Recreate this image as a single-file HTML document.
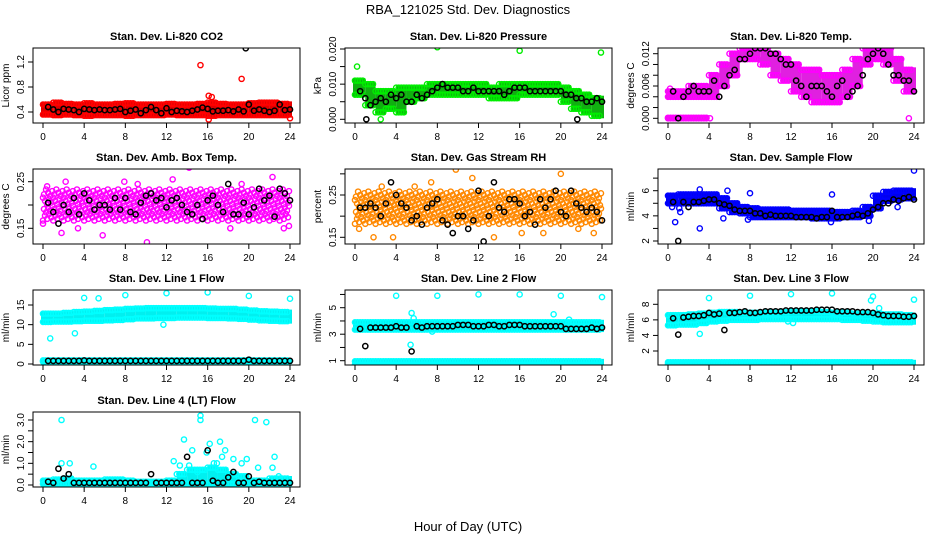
<!DOCTYPE html>
<html><head><meta charset="utf-8"><style>
body{margin:0;background:#fff}
svg{display:block;font-family:"Liberation Sans",sans-serif}
</style></head><body>
<svg id="c" width="936" height="540" viewBox="0 0 936 540">
<text x="468" y="14" font-size="13" text-anchor="middle">RBA_121025  Std. Dev. Diagnostics</text>
<text x="468" y="531" font-size="13" text-anchor="middle">Hour of Day (UTC)</text>
</svg>
<script>
const hoursTicks=[0,4,8,12,16,20,24];
// CO2
const co2Lo=[0.36,0.35,0.36,0.35,0.34,0.35,0.35,0.35,0.34,0.35,0.35,0.35,0.36,0.35,0.35,0.35,0.34,0.35,0.35,0.35,0.35,0.35,0.35,0.35,0.33];
const co2Hi=[0.52,0.55,0.53,0.52,0.54,0.52,0.52,0.53,0.54,0.52,0.52,0.52,0.53,0.52,0.52,0.53,0.55,0.53,0.52,0.52,0.54,0.55,0.55,0.53,0.52];
const co2Black=[0.48,0.44,0.40,0.45,0.44,0.43,0.40,0.45,0.44,0.43,0.44,0.43,0.43,0.44,0.45,0.40,0.42,0.44,0.38,0.43,0.48,0.43,0.38,0.46,0.40,0.42,0.41,0.40,0.42,0.44,0.47,0.45,0.41,0.42,0.42,0.43,0.41,0.44,0.41,0.52,0.42,0.44,0.42,0.40,0.42,0.52,0.43,0.44];
const co2OutX=[15.3,16.1,16.4,19.3,16.1,24],co2OutY=[1.15,0.66,0.64,0.93,0.28,0.3];
const co2BOutX=[19.7],co2BOutY=[1.42];
// Pressure
const prLo=[0.007,0.004,0.002,0.003,0.002,0.005,0.006,0.007,0.007,0.007,0.007,0.007,0.007,0.006,0.006,0.006,0.007,0.007,0.007,0.007,0.005,0.003,0.002,0.001,0.000];
const prHi=[0.011,0.010,0.008,0.008,0.009,0.009,0.009,0.010,0.010,0.010,0.010,0.010,0.010,0.009,0.010,0.010,0.010,0.010,0.010,0.010,0.009,0.008,0.007,0.006,0.006];
const prBlack=[0.008,0.006,0.004,0.005,0.006,0.005,0.007,0.006,0.007,0.005,0.005,0.007,0.006,0.007,0.008,0.009,0.010,0.009,0.009,0.009,0.008,0.008,0.009,0.008,0.008,0.008,0.008,0.008,0.007,0.008,0.009,0.009,0.009,0.008,0.008,0.008,0.008,0.008,0.008,0.008,0.007,0.007,0.006,0.006,0.005,0.005,0.006,0.005];
const prOutX=[0.2,8,16,23.9,2.5],prOutY=[0.015,0.0205,0.0195,0.019,0.0];
const prBOutX=[1.1,21.6],prBOutY=[0.0,0.0];
// Li-820 temp
const ltLo=[0.004,0.004,0.004,0.004,0.004,0.006,0.008,0.011,0.011,0.010,0.008,0.007,0.005,0.004,0.003,0.003,0.003,0.004,0.006,0.010,0.011,0.010,0.007,0.005,0.004];
const ltHi=[0.005,0.005,0.006,0.006,0.008,0.010,0.012,0.013,0.013,0.013,0.012,0.011,0.010,0.009,0.009,0.008,0.008,0.009,0.011,0.013,0.013,0.013,0.011,0.009,0.008];
const ltZeroLo=[0,0,0,0,null,null,null,null,null,null,null,null,null,null,null,null,null,null,null,null,null,null,null,null,null];
const ltZeroHi=[0.0001,0.0001,0.0001,0.0001,null,null,null,null,null,null,null,null,null,null,null,null,null,null,null,null,null,null,null,null,null];
const ltBlack=[0.005,0.000,0.004,0.005,0.006,0.005,0.005,0.005,0.007,0.004,0.006,0.008,0.009,0.011,0.011,0.012,0.013,0.013,0.013,0.012,0.012,0.011,0.010,0.010,0.007,0.006,0.004,0.006,0.006,0.006,0.005,0.004,0.006,0.007,0.004,0.005,0.006,0.008,0.011,0.012,0.013,0.012,0.010,0.008,0.008,0.007,0.007,0.005];
const ltOutX=[0.2,23.5,4.1],ltOutY=[0.0055,0.0,0.0];
// Amb box temp
const abLo=[0.165,0.165,0.165,0.165,0.165,0.165,0.165,0.165,0.165,0.165,0.165,0.165,0.165,0.165,0.165,0.165,0.165,0.165,0.165,0.165,0.165,0.165,0.165,0.165,0.165];
const abHi=[0.235,0.235,0.235,0.235,0.235,0.235,0.235,0.235,0.235,0.235,0.235,0.235,0.235,0.235,0.235,0.235,0.235,0.235,0.235,0.235,0.235,0.235,0.235,0.235,0.235];
const abBlack=[0.205,0.185,0.16,0.20,0.185,0.215,0.18,0.225,0.21,0.19,0.20,0.20,0.19,0.215,0.19,0.215,0.185,0.18,0.205,0.22,0.225,0.21,0.215,0.195,0.21,0.215,0.20,0.185,0.18,0.20,0.17,0.21,0.22,0.20,0.185,0.245,0.18,0.18,0.205,0.18,0.195,0.235,0.21,0.22,0.175,0.235,0.225,0.21];
const abOutX=[0,0.4,2.2,1.8,5.8,10.1,14.2,12.6,22.3,23.4,23.9,18.2,19.3,9.2,3.4,7.9],abOutY=[0.16,0.24,0.25,0.14,0.135,0.12,0.28,0.255,0.26,0.15,0.155,0.15,0.245,0.245,0.15,0.25];
// RH
const rhLo=[0.18,0.18,0.18,0.18,0.18,0.18,0.18,0.18,0.18,0.18,0.18,0.18,0.18,0.18,0.18,0.18,0.18,0.18,0.18,0.18,0.18,0.18,0.18,0.18,0.18];
const rhHi=[0.26,0.26,0.26,0.26,0.26,0.26,0.26,0.26,0.26,0.26,0.26,0.26,0.26,0.26,0.26,0.26,0.26,0.26,0.26,0.26,0.26,0.26,0.26,0.26,0.26];
const rhBlack=[0.22,0.22,0.23,0.22,0.20,0.23,0.28,0.25,0.23,0.22,0.19,0.20,0.18,0.22,0.23,0.24,0.19,0.18,0.16,0.20,0.20,0.17,0.19,0.26,0.14,0.20,0.28,0.22,0.21,0.24,0.24,0.23,0.20,0.21,0.18,0.24,0.22,0.24,0.26,0.21,0.20,0.26,0.23,0.22,0.21,0.22,0.21,0.19];
const rhOutX=[0.4,1.8,3.7,5.8,7.4,9.8,11.4,13.5,16.2,18.3,20,21.7,23.2,2.6],rhOutY=[0.17,0.15,0.15,0.27,0.28,0.31,0.29,0.15,0.16,0.16,0.30,0.17,0.16,0.27];
// Sample flow
const sfLo=[5.0,5.0,5.0,5.0,5.0,4.6,4.3,4.2,3.9,3.9,3.9,3.9,3.9,3.9,3.8,3.8,3.8,3.9,3.9,4.0,4.6,5.2,5.3,5.4,5.3];
const sfHi=[5.6,5.7,5.7,5.7,5.7,5.4,5.0,4.7,4.6,4.5,4.5,4.5,4.4,4.4,4.4,4.4,4.3,4.3,4.4,4.7,5.6,5.9,6.0,6.0,6.0];
const sfBlack=[5.1,2.0,5.1,4.7,5.1,5.1,5.2,5.3,5.3,5.0,4.9,4.8,4.5,4.4,4.4,4.4,4.2,4.2,4.0,4.1,4.0,4.0,4.0,4.0,3.9,3.9,3.9,3.9,3.8,3.9,3.9,4.4,3.9,3.9,3.9,4.0,4.1,4.0,4.2,4.5,4.7,5.0,5.0,5.3,5.2,5.4,5.5,5.3];
const sfOutX=[0.7,1.2,3.1,3.1,5.4,5.8,8,7.8,16,15.9,19.6,24,0.4,1.1,22.4],sfOutY=[3.5,4.3,6.1,3.0,3.8,6.0,5.8,3.7,5.7,3.5,3.6,7.6,4.7,4.6,4.7];
// Line 1
const l1Lo=[10.7,10.8,10.8,10.9,11.0,11.0,11.1,11.2,11.4,11.6,11.6,11.7,11.7,11.8,11.8,11.8,11.7,11.7,11.6,11.5,11.3,11.1,11.0,10.9,10.9];
const l1Hi=[12.8,12.8,13.0,13.2,13.3,13.5,13.7,13.8,14.0,14.1,14.2,14.2,14.2,14.2,14.2,14.2,14.1,14.0,14.0,13.8,13.6,13.4,13.3,13.2,13.2];
const l1LowLo=[0.6,0.6,0.6,0.6,0.6,0.6,0.6,0.6,0.6,0.6,0.6,0.6,0.6,0.6,0.6,0.6,0.6,0.6,0.6,0.6,0.6,0.6,0.6,0.6,0.6];
const l1LowHi=[0.9,0.9,0.9,0.9,0.9,0.9,0.9,0.9,0.9,0.9,0.9,0.9,0.9,0.9,0.9,0.9,0.9,0.9,0.9,0.9,0.9,0.9,0.9,0.9,0.9];
const l1Black=[0.8,0.8,0.8,0.8,0.8,0.8,0.8,0.9,0.8,0.8,0.8,0.8,0.8,0.8,0.8,0.8,0.8,0.8,0.8,0.8,0.8,0.8,0.8,0.8,0.8,0.8,0.8,0.8,0.8,0.8,0.8,0.8,0.8,0.8,0.8,0.8,0.8,0.8,0.8,1.1,0.8,0.8,0.8,0.8,0.8,0.8,0.8,0.8];
const l1OutX=[0.7,3.1,4,5.4,8,12,16,20,24,11.7,12.1],l1OutY=[6.5,7.8,16.8,16.7,17.5,18,18.2,17.3,16.6,10,0];
// Line 2
const l2Lo=[3.35,3.35,3.35,3.35,3.35,3.35,3.35,3.35,3.35,3.35,3.35,3.35,3.35,3.35,3.35,3.35,3.35,3.35,3.35,3.35,3.35,3.35,3.35,3.35,3.35];
const l2Hi=[3.9,3.9,3.9,3.9,3.9,3.9,3.9,3.9,3.9,3.9,3.9,3.9,3.9,3.9,3.9,3.9,3.9,3.9,3.9,3.9,3.9,3.9,3.9,3.9,3.9];
const l2LowLo=[0.7,0.7,0.7,0.7,0.7,0.7,0.7,0.7,0.7,0.7,0.7,0.7,0.7,0.7,0.7,0.7,0.7,0.7,0.7,0.7,0.7,0.7,0.7,0.7,0.7];
const l2LowHi=[0.95,0.95,0.95,0.95,0.95,0.95,0.95,0.95,0.95,0.95,0.95,0.95,0.95,0.95,0.95,0.95,0.95,0.95,0.95,0.95,0.95,0.95,0.95,0.95,0.95];
const l2Black=[3.4,2.1,3.5,3.5,3.5,3.5,3.5,3.6,3.5,3.5,1.7,3.6,3.5,3.6,3.6,3.6,3.6,3.6,3.6,3.7,3.7,3.7,3.6,3.6,3.6,3.7,3.7,3.6,3.6,3.7,3.7,3.7,3.6,3.6,3.6,3.6,3.6,3.6,3.6,3.6,3.4,3.4,3.4,3.4,3.4,3.5,3.4,3.5];
const l2OutX=[4,8,12,16,20,24,5.5,5.7,5.4,20.8,19.3,7.5],l2OutY=[5.9,5.9,6,6,5.9,5.8,4.6,4.2,2.2,4.1,4.5,3.2];
// Line 3
const l3Lo=[5.3,5.4,5.4,5.6,5.8,5.9,6.0,6.0,6.0,6.1,6.1,6.1,6.1,6.1,6.1,6.1,6.1,6.0,6.0,5.9,5.8,5.7,5.7,5.7,5.7];
const l3Hi=[6.6,6.6,6.7,6.8,6.9,7.0,7.0,6.9,6.9,6.9,6.9,7.0,7.1,7.1,7.1,7.0,6.9,6.9,6.8,6.8,6.8,6.7,6.7,6.6,6.6];
const l3LowLo=[0.3,0.3,0.3,0.3,0.3,0.3,0.3,0.3,0.3,0.3,0.3,0.3,0.3,0.3,0.3,0.3,0.3,0.3,0.3,0.3,0.3,0.3,0.3,0.3,0.3];
const l3LowHi=[0.55,0.55,0.55,0.55,0.55,0.55,0.55,0.55,0.55,0.55,0.55,0.55,0.55,0.55,0.55,0.55,0.55,0.55,0.55,0.55,0.55,0.55,0.55,0.55,0.55];
const l3Black=[6.2,4.1,6.3,6.4,6.5,6.5,6.6,6.9,6.7,6.8,4.7,6.9,6.9,7.0,7.1,6.9,6.9,7.0,7.1,7.1,7.1,7.1,7.2,7.2,7.2,7.2,7.2,7.2,7.3,7.3,7.3,7.3,7.1,7.1,7.1,7.1,7.0,7.0,7.0,6.9,6.7,6.6,6.5,6.5,6.5,6.4,6.4,6.5];
const l3OutX=[3.1,4,8,12,16,20,19.8,24,20.6,12.2,11.7],l3OutY=[4.2,8.8,9.1,9.3,9.4,9,8.5,8.6,7.5,5.6,5.8];
// Line 4
const l4Lo=[0.05,0.05,0.05,0.05,0.05,0.05,0.05,0.05,0.05,0.05,0.05,0.05,0.05,0.05,0.05,0.05,0.05,0.05,0.05,0.05,0.05,0.05,0.05,0.05,0.05];
const l4Hi=[0.2,0.25,0.3,0.2,0.2,0.2,0.25,0.25,0.2,0.15,0.15,0.15,0.2,0.5,0.7,0.7,0.8,0.7,0.5,0.4,0.2,0.2,0.3,0.3,0.2];
const l4Black=[0.15,0.1,0.75,0.3,0.5,0.1,0.1,0.1,0.1,0.1,0.1,0.1,0.1,0.1,0.1,0.1,0.1,0.1,0.1,0.1,0.5,0.1,0.1,0.1,0.1,0.1,0.1,1.3,0.1,0.1,0.1,1.6,0.2,0.1,0.1,0.35,0.6,0.1,0.1,0.4,0.1,0.15,0.1,0.1,0.1,0.1,0.1,0.1];
const l4OutX=[1.8,1.8,2.6,4.9,13.7,14.5,15.3,15.3,15.9,16.2,16.6,17.2,17.7,18.5,19.3,19.8,20.6,20.9,21.7,22.3,22.5,22.9,12.7,13.3,14.2,15.0,16.9,17.4],l4OutY=[3.0,1.0,1.0,0.85,2.1,1.6,3.2,3.0,1.5,1.9,1.0,2.0,1.6,1.2,1.0,1.2,3.0,0.8,2.9,0.8,1.3,0.4,1.1,0.9,0.9,0.6,1.0,1.3];

const panels=[
 {name:"co2",title:"Stan. Dev. Li-820 CO2",yl:"Licor ppm",c:0,r:0,ref:[0.4,112,1.2,62],ticks:[0.4,0.8,1.2],labels:["0.4","0.8","1.2"],col:"#ff0000",fill:"#e00000",bands:[[co2Lo,co2Hi]],bx:co2Black,ox:co2OutX,oy:co2OutY,box:co2BOutX,boy:co2BOutY},
 {name:"pressure",title:"Stan. Dev. Li-820 Pressure",yl:"kPa",c:1,r:0,ref:[0,119.3,0.02,49],ticks:[0,0.005,0.01,0.015,0.02],labels:["0.000","","0.010","","0.020"],col:"#00ee00",fill:"#10b010",bands:[[prLo,prHi]],bx:prBlack,ox:prOutX,oy:prOutY,box:prBOutX,boy:prBOutY},
 {name:"li820-temp",title:"Stan. Dev. Li-820 Temp.",yl:"degrees C",c:2,r:0,ref:[0,118.3,0.012,53.7],ticks:[0,0.002,0.004,0.006,0.008,0.01,0.012],labels:["0.000","","","0.006","","","0.012"],col:"#ff00ff",fill:"#e020e0",bands:[[ltLo,ltHi],[ltZeroLo,ltZeroHi]],bx:ltBlack,ox:ltOutX,oy:ltOutY},
 {name:"amb-box-temp",title:"Stan. Dev. Amb. Box Temp.",yl:"degrees C",c:0,r:1,ref:[0.15,228.3,0.25,181.7],ticks:[0.15,0.2,0.25],labels:["0.15","","0.25"],col:"#ff00ff",fill:"#ff00ff",sparse:true,bands:[[abLo,abHi]],bx:abBlack,ox:abOutX,oy:abOutY},
 {name:"gas-stream-rh",title:"Stan. Dev. Gas Stream RH",yl:"percent",c:1,r:1,ref:[0.15,237.3,0.25,195],ticks:[0.15,0.2,0.25,0.3],labels:["0.15","","0.25",""],col:"#ff8800",fill:"#f0b800",sparse:true,bands:[[rhLo,rhHi]],bx:rhBlack,ox:rhOutX,oy:rhOutY},
 {name:"sample-flow",title:"Stan. Dev. Sample Flow",yl:"ml/min",c:2,r:1,ref:[2,241,6,190.7],ticks:[2,3,4,5,6,7],labels:["2","","4","","6",""],col:"#0000ff",fill:"#0000ee",bands:[[sfLo,sfHi]],bx:sfBlack,ox:sfOutX,oy:sfOutY},
 {name:"line1-flow",title:"Stan. Dev. Line 1 Flow",yl:"ml/min",c:0,r:2,ref:[0,364,15,305],ticks:[0,5,10,15],labels:["0","5","10","15"],col:"#00ffff",fill:"#00f0f0",bands:[[l1Lo,l1Hi],[l1LowLo,l1LowHi]],bx:l1Black,ox:l1OutX,oy:l1OutY},
 {name:"line2-flow",title:"Stan. Dev. Line 2 Flow",yl:"ml/min",c:1,r:2,ref:[1,360.7,5,307.7],ticks:[1,2,3,4,5,6],labels:["1","","3","","5",""],col:"#00ffff",fill:"#00f0f0",bands:[[l2Lo,l2Hi],[l2LowLo,l2LowHi]],bx:l2Black,ox:l2OutX,oy:l2OutY},
 {name:"line3-flow",title:"Stan. Dev. Line 3 Flow",yl:"ml/min",c:2,r:2,ref:[2,351,8,304.3],ticks:[2,4,6,8],labels:["2","4","6","8"],col:"#00ffff",fill:"#00f0f0",bands:[[l3Lo,l3Hi],[l3LowLo,l3LowHi]],bx:l3Black,ox:l3OutX,oy:l3OutY},
 {name:"line4-flow",title:"Stan. Dev. Line 4 (LT) Flow",yl:"ml/min",c:0,r:3,ref:[0,485,3,420],ticks:[0,0.5,1,1.5,2,2.5,3],labels:["0.0","","1.0","","2.0","","3.0"],col:"#00ffff",fill:"#00f0f0",bands:[[l4Lo,l4Hi]],bx:l4Black,ox:l4OutX,oy:l4OutY}
];
const NS="http://www.w3.org/2000/svg";
const svg=document.getElementById('c');
function mk(tag,attrs,parent,txt){const e=document.createElementNS(NS,tag);for(const k in attrs)e.setAttribute(k,attrs[k]);if(txt!==undefined)e.textContent=txt;parent.appendChild(e);return e;}
const colL=[33,345,658],colR=[300,612,924],rowT=[48,169,290,412];
panels.forEach(p=>{
 const g=mk('g',{},svg);
 
 
 const L=colL[p.c],R=colR[p.c],T=rowT[p.r],B=T+75;
 const xs=h=>L+10+h*(R-L-20)/24;
 const k=(p.ref[3]-p.ref[1])/(p.ref[2]-p.ref[0]);
 const ys=v=>p.ref[1]+(v-p.ref[0])*k;
 const cp=mk('clipPath',{id:'cp'+p.name},g);mk('rect',{x:L,y:T,width:R-L,height:B-T},cp);
 const pg=mk('g',{'clip-path':'url(#cp'+p.name+')'},g);
 p.bands.forEach(([lo,hi])=>{
  for(let h=0;h<24;h++){
   if(lo[h]===null)continue;
   if(p.sparse){
    for(let q=0;q<5;q++){
     for(let j=0;j<4;j++){
      const f=((q*3+j*2)%5+0.5)/5;
      const v=lo[h]+(hi[h]-lo[h])*((j+f)/4);
      const c=mk('circle',{cx:xs(h+q*0.2+(j%2)*0.1),cy:ys(v),r:2.6,fill:'none',stroke:p.col,'stroke-width':1.4},pg);
      
      
     }
    }
    continue;
   }
   const x0=xs(h)+(h===0?-2:0),x1=xs(h+1)+(h===23?2:0);
   const y0=ys(hi[h])-2.5,y1=ys(lo[h])+2.5;
   const r=mk('rect',{x:x0,y:y0,width:x1-x0,height:y1-y0,fill:p.fill},pg);
   
   
   for(let q=0;q<4;q++){
    [lo[h],hi[h]].forEach(v=>{
     const c=mk('circle',{cx:xs(h+q*0.25),cy:ys(v),r:2.6,fill:'none',stroke:p.col,'stroke-width':1.4},pg);
     
     
    });
   }
  }
 });
 p.ox.forEach((x,i)=>{
  const c=mk('circle',{cx:xs(x),cy:ys(p.oy[i]),r:2.6,fill:'none',stroke:p.col,'stroke-width':1.4},pg);
  
  
 });
 p.bx.forEach((v,i)=>{
  const c=mk('circle',{cx:xs(0.5*(i+1)),cy:ys(v),r:2.6,fill:'none',stroke:'#000','stroke-width':1.5},pg);
  
  
 });
 (p.box||[]).forEach((x,i)=>{
  const c=mk('circle',{cx:xs(x),cy:ys(p.boy[i]),r:2.6,fill:'none',stroke:'#000','stroke-width':1.5},pg);
  
  
 });
 const bx=mk('rect',{x:L,y:T,width:R-L,height:B-T,fill:'none',stroke:'#000','stroke-width':1},g);
 
 
 const tt=mk('text',{x:(L+R)/2,y:T-8,'font-size':11,'font-weight':'bold','text-anchor':'middle'},g,p.title);
 
 
 hoursTicks.forEach(h=>{
  mk('line',{x1:xs(h),x2:xs(h),y1:B,y2:B+5,stroke:'#000'},g);
  const t=mk('text',{x:xs(h),y:B+17,'font-size':10,'text-anchor':'middle'},g,String(h));
  
  
 });
 mk('line',{x1:xs(0),x2:xs(24),y1:B,y2:B,stroke:'#000'},g);
 mk('line',{x1:L,x2:L,y1:ys(p.ticks[0]),y2:ys(p.ticks[p.ticks.length-1]),stroke:'#000'},g);
 p.ticks.forEach((v,i)=>{
  mk('line',{x1:L-5,x2:L,y1:ys(v),y2:ys(v),stroke:'#000'},g);
  if(p.labels[i]){
   const t=mk('text',{x:0,y:0,'font-size':10,'text-anchor':'middle',transform:`translate(${L-9},${ys(v)}) rotate(-90)`},g,p.labels[i]);
   
   
  }
 });
 const yt=mk('text',{x:0,y:0,'font-size':10,'text-anchor':'middle',transform:`translate(${L-24},${(T+B)/2}) rotate(-90)`},g,p.yl);
 
 
});
</script>
</body></html>
